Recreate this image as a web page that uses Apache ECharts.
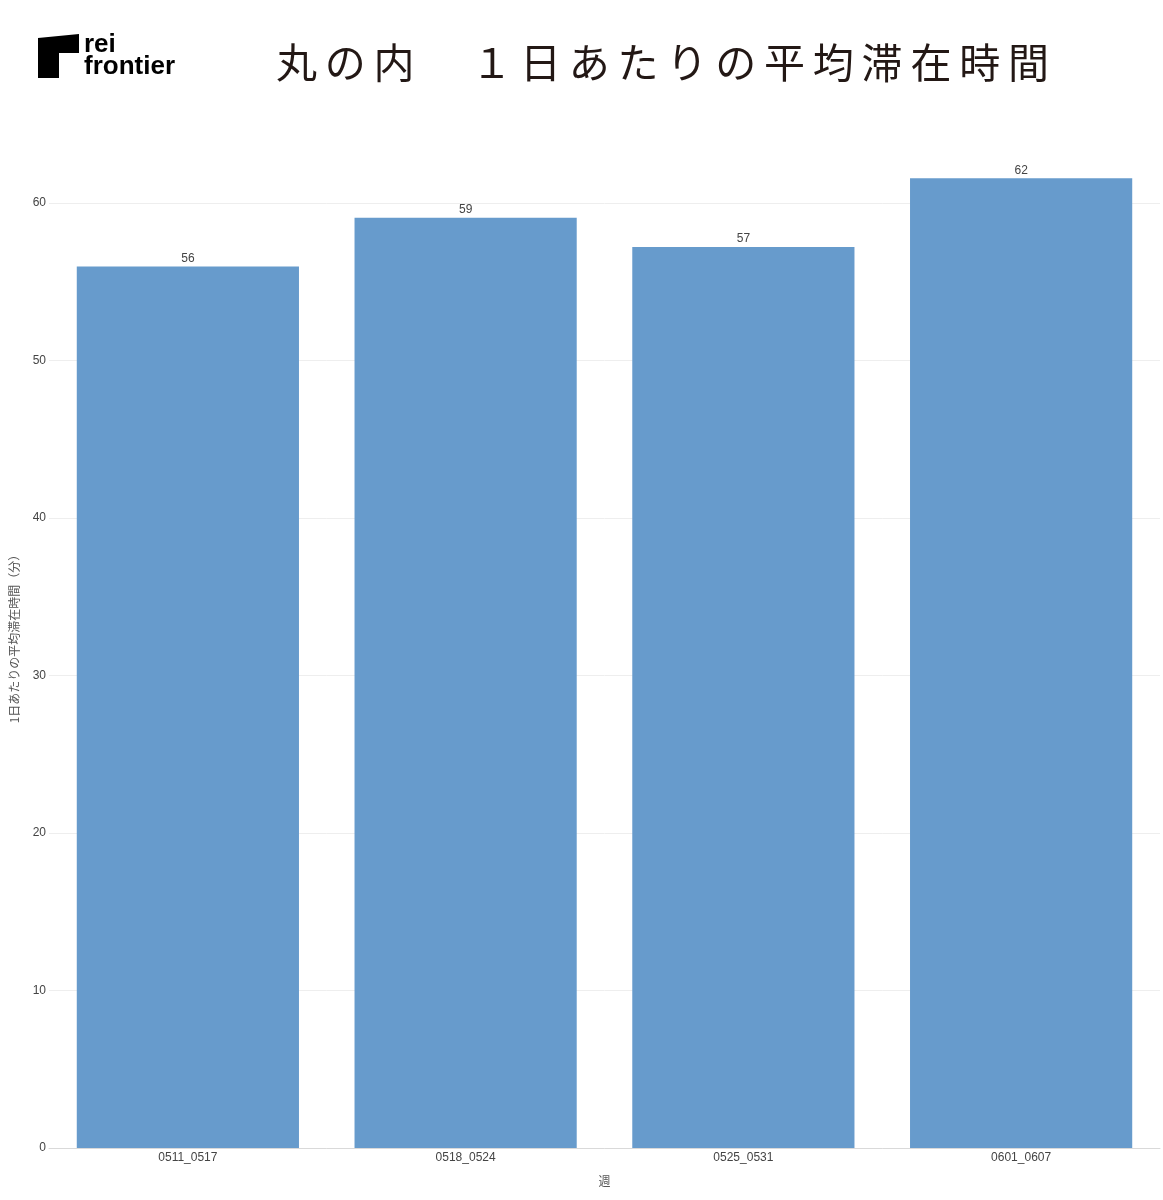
<!DOCTYPE html>
<html>
<head>
<meta charset="utf-8">
<script src="https://cdn.jsdelivr.net/npm/echarts@6/dist/echarts.min.js"></script>
<style>
html,body{margin:0;padding:0;background:#fff;}
#main{width:1163px;height:1200px;}
</style>
</head>
<body>
<div id="main"></div>
<script>
const weeks = ['0511_0517', '0518_0524', '0525_0531', '0601_0607'];
const avgStayMinutes = [55.96, 59.05, 57.19, 61.55];
const yTicks = [0, 10, 20, 30, 40, 50, 60];

const titleText = '丸の内\u3000１日あたりの平均滞在時間';
const yAxisName = '1日あたりの平均滞在時間（分）';
const xAxisName = '週';

const chart = echarts.init(document.getElementById('main'));
const font = '"Liberation Sans", Arial, "Noto Sans CJK JP", sans-serif';

// title drawn per character to reproduce its wide letter spacing
const titleChars = Array.from(titleText).map((ch, i) => ({
  type: 'text', x: 276 + i * 48.8, y: 42,
  style: { text: ch, fill: '#231815', font: '400 41px "Noto Sans CJK JP", sans-serif' }
}));

chart.setOption({
  backgroundColor: '#ffffff',
  animation: false,
  textStyle: { fontFamily: font },
  graphic: [
    {
      type: 'polygon',
      shape: { points: [[38, 38], [79, 34], [79, 53], [59, 53], [59, 78], [38, 78]] },
      style: { fill: '#000000' }
    },
    {
      type: 'text', x: 84, y: 32,
      style: { text: 'rei', fill: '#000', font: 'bold 26px "Liberation Sans", Arial, sans-serif' }
    },
    {
      type: 'text', x: 84, y: 54,
      style: { text: 'frontier', fill: '#000', font: 'bold 26px "Liberation Sans", Arial, sans-serif' }
    }
  ].concat(titleChars),
  grid: { left: 49, right: 3, top: 124, bottom: 52, containLabel: false, outerBoundsMode: 'none' },
  xAxis: {
    type: 'category',
    data: weeks,
    name: xAxisName,
    nameLocation: 'middle',
    nameGap: 27,
    nameTextStyle: { color: '#555', fontSize: 12, fontFamily: '"Noto Sans CJK JP", sans-serif' },
    axisLine: { show: true, lineStyle: { color: '#d9d9d9', width: 1 } },
    axisTick: { show: false },
    axisLabel: { color: '#444', fontSize: 12, margin: 4 }
  },
  yAxis: {
    type: 'value',
    min: 0,
    max: 65,
    interval: 10,
    name: yAxisName,
    nameLocation: 'middle',
    nameGap: 29,
    nameTextStyle: { color: '#555', fontSize: 12, fontFamily: '"Noto Sans CJK JP", sans-serif' },
    axisLine: { show: false },
    axisTick: { show: false },
    axisLabel: {
      color: '#444', fontSize: 12, margin: 3, showMaxLabel: false,
      formatter: v => (yTicks.indexOf(v) >= 0 ? String(v) : '')
    },
    splitLine: { show: true, showMaxLine: false, lineStyle: { color: '#eeeeee', width: 1 } }
  },
  series: [{
    type: 'bar',
    data: avgStayMinutes,
    barCategoryGap: '20%',
    itemStyle: { color: '#679bcc' },
    label: {
      show: true, position: 'top', distance: 2,
      color: '#444', fontSize: 12,
      formatter: p => Math.round(p.value)
    }
  }]
});
</script>
</body>
</html>
